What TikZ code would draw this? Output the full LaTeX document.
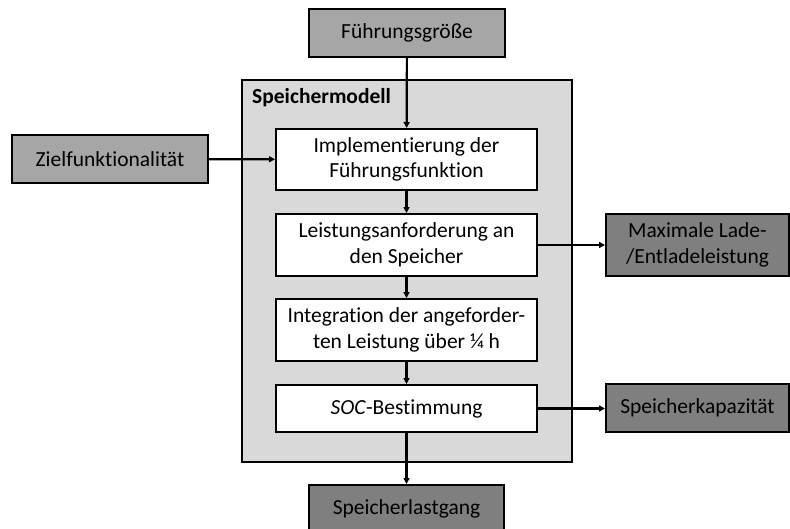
\documentclass[tikz,border=0pt]{standalone}
\usepackage{fontspec}
\setmainfont[Ligatures=NoCommon]{Carlito}
\usetikzlibrary{arrows.meta}

\definecolor{boxlight}{HTML}{A6A6A6}
\definecolor{boxdark}{HTML}{7F7F7F}
\definecolor{modellfill}{HTML}{D9D9D9}

\tikzset{
  block/.style={
    draw,
    line width=2pt,
    inner sep=0pt,
    align=center,
    font=\fontsize{21.5}{25.5}\selectfont
  },
  input/.style={
    block,
    fill=boxlight,
    minimum width=196pt,
    minimum height=48pt
  },
  output/.style={
    block,
    fill=boxdark,
    minimum width=183pt
  },
  step box/.style={
    block,
    fill=white,
    minimum width=261pt
  },
  flow/.style={
    line width=2.2pt,
    -{Triangle[length=6pt,width=6pt]}
  }
}

\begin{document}
\begin{tikzpicture}[x=1pt,y=-1pt]
  \useasboundingbox (0,0) rectangle (790,528);

  \node[draw, line width=2pt, fill=modellfill, minimum width=330pt, minimum height=382pt] (modell) at (407,271) {};
  \node[anchor=west, inner sep=0pt, font=\fontsize{21.5}{25}\selectfont\bfseries] (modelltitel) at (252,98) {Speichermodell};

  \node[input] (fuehrung) at (407,33) {Führungsgröße};
  \node[input] (ziel) at (110,159) {Zielfunktionalität};

  \node[step box, minimum height=61pt] (impl) at (406.5,159.5) {Implementierung der\\Führungsfunktion};
  \node[step box, minimum height=62pt] (leist) at (406.5,245) {Leistungsanforderung an\\den Speicher};
  \node[step box, minimum height=62pt] (integ) at (406.5,330) {Integration der angeforder-\\ten Leistung über ¼ h};
  \node[step box, minimum height=47pt] (soc) at (406.5,408.5) {\textit{SOC}-Bestimmung};

  \node[output, minimum height=62pt] (maxlade) at (697.5,245) {Maximale Lade-\\/Entladeleistung};
  \node[output, minimum height=48pt] (kapaz) at (697.5,408) {Speicherkapazität};
  \node[output, minimum width=195pt, minimum height=48pt] (lastgang) at (406.5,509) {Speicherlastgang};

  \draw[flow] (fuehrung) -- (impl);
  \draw[flow] (ziel) -- (impl);
  \draw[flow] (impl) -- (leist);
  \draw[flow] (leist) -- (integ);
  \draw[flow] (integ) -- (soc);
  \draw[flow] (soc) -- (lastgang);
  \draw[flow] (leist) -- (maxlade);
  \draw[flow] (soc.east) -- (kapaz.west |- soc.east);
\end{tikzpicture}
\end{document}
